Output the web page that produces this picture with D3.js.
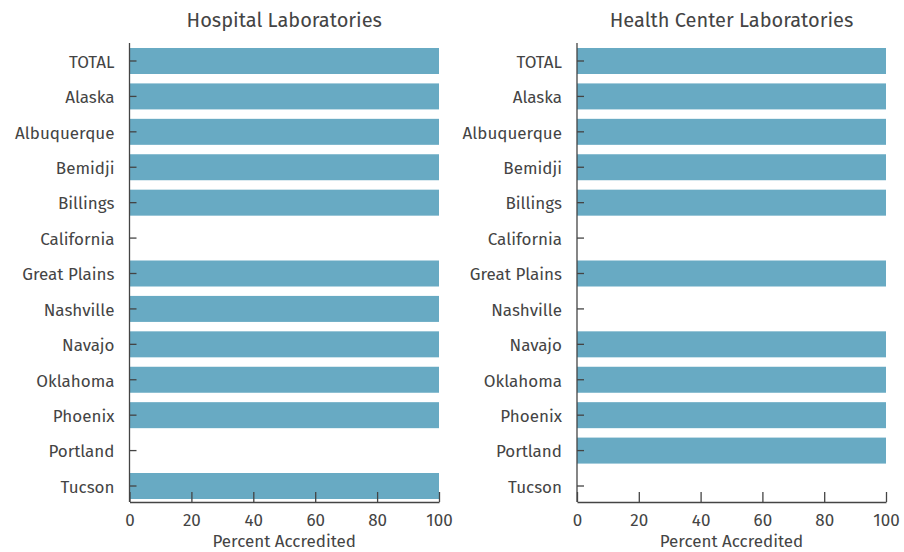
<!DOCTYPE html>
<meta charset="utf-8">
<style>
body { margin: 0; background: #fff; font-family: "Fira Sans", "Open Sans", sans-serif; }
.axis path, .axis line { stroke: #444; stroke-width: 1.3; fill: none; }
.axis text { fill: #444; font-size: 17px; font-family: "Fira Sans", "Open Sans", sans-serif; }
.title { fill: #444; font-size: 20px; }
.xlabel { fill: #444; font-size: 17px; }
</style>
<body>
<script src="https://d3js.org/d3.v7.min.js"></script>
<script>
// chart size
var width = 904, height = 552;

// data
var regions = ["TOTAL", "Alaska", "Albuquerque", "Bemidji", "Billings", "California",
    "Great Plains", "Nashville", "Navajo", "Oklahoma", "Phoenix", "Portland", "Tucson"];
var hospitalValues = [100, 100, 100, 100, 100, 0, 100, 100, 100, 100, 100, 0, 100];
var healthCenterValues = [100, 100, 100, 100, 100, 0, 100, 0, 100, 100, 100, 100, 0];
var xTicks = [0, 20, 40, 60, 80, 100];
var panelTitles = ["Hospital Laboratories", "Health Center Laboratories"];
var xTitle = "Percent Accredited";

var svg = d3.select("body").append("svg")
    .attr("width", width)
    .attr("height", height);

var plotTop = 43, plotBottom = 502;

// band scale for the rows
var y = d3.scaleBand()
    .domain(regions)
    .range([43.5, 503.5])
    .paddingInner(0.266)
    .paddingOuter(0.127);

function drawPanel(left, right, values, title) {
    var x = d3.scaleLinear().domain([0, 100]).range([left, right]);
    var g = svg.append("g");

    var data = regions.map(function(r, i) { return {region: r, value: values[i]}; });

    g.selectAll("rect")
        .data(data)
        .enter().append("rect")
        .attr("x", x(0))
        .attr("y", function(d) { return y(d.region); })
        .attr("width", function(d) { return x(d.value) - x(0); })
        .attr("height", y.bandwidth())
        .attr("fill", "#68aac3");

    // y axis, ticks pointing inward
    var yAxis = g.append("g")
        .attr("class", "axis")
        .attr("transform", "translate(" + x(0) + ",0)")
        .call(d3.axisLeft(y).tickSizeInner(-7).tickSizeOuter(0));
    yAxis.select(".domain").attr("d", "M0," + plotTop + "V" + plotBottom);
    yAxis.selectAll("text").attr("x", -15).attr("dy", "0.4em");

    // x axis, ticks pointing up
    var xAxis = g.append("g")
        .attr("class", "axis")
        .attr("transform", "translate(0," + plotBottom + ")")
        .call(d3.axisBottom(x).tickValues(xTicks).tickSizeInner(-10).tickSizeOuter(0));
    xAxis.selectAll("text").attr("y", 12).attr("dy", "0.71em");

    g.append("text")
        .attr("class", "title")
        .attr("x", (left + right) / 2)
        .attr("y", 27)
        .attr("text-anchor", "middle")
        .text(title);

    g.append("text")
        .attr("class", "xlabel")
        .attr("x", (left + right) / 2)
        .attr("y", 547)
        .attr("text-anchor", "middle")
        .text(xTitle);
}

drawPanel(129.5, 439, hospitalValues, panelTitles[0]);
drawPanel(577, 886, healthCenterValues, panelTitles[1]);
</script>
</body>
